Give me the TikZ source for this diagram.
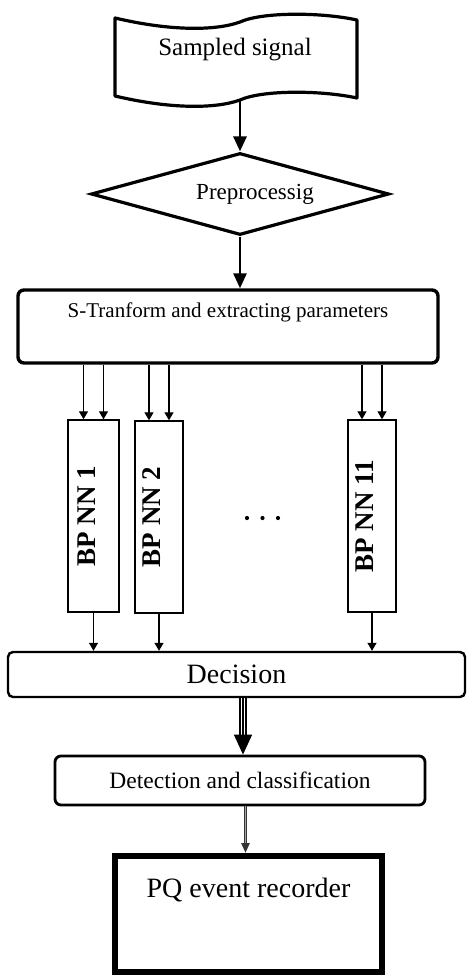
\documentclass[tikz,border=0pt]{standalone}
\usepackage{fontspec}
\setmainfont{Liberation Serif}
\usetikzlibrary{arrows.meta,shapes.geometric,calc}
\newcommand{\nnlab}[1]{\rotatebox{90}{\fontsize{27}{30}\bfseries\selectfont #1}\hspace*{14pt}}
\tikzset{
  tape/.style={draw,line width=3.2pt,line join=round},
  bigarr/.style={-{Triangle[length=15pt,width=13pt]},line width=2.8pt},
  smarr/.style={-{Triangle[length=8pt,width=9pt]},line width=1.2pt},
  nnbox/.style={draw,line width=1.4pt,minimum width=48pt,minimum height=192pt,inner sep=0pt},
  rbox/.style={draw,rounded corners=6pt,inner sep=0pt},
}

\begin{document}
\begin{tikzpicture}[x=1pt,y=-1pt]
  \useasboundingbox (0,0) rectangle (467,979);
  % sampled signal (tape)
  \draw[tape] (115,18) .. controls (170,31) and (215,31) .. (240,22)
    .. controls (262,12) and (320,12) .. (357,20) -- (357,98)
    .. controls (320,90) and (262,90) .. (240,100)
    .. controls (215,109) and (170,109) .. (115,96) -- cycle;
  \node[font=\fontsize{25}{28}\selectfont] (smp) at (235,50) {Sampled signal};
  \coordinate (smpout) at (240,100);
  % preprocessing
  \node[diamond,draw,line width=3.2pt,minimum width=298pt,minimum height=82pt,aspect=3.63,inner sep=0pt,
    label={[xshift=15pt,font=\fontsize{23}{26}\selectfont]center:Preprocessig}] (pre) at (240,194) {};
  % s-transform
  \node[rbox,line width=3.4pt,minimum width=420pt,text height=27pt,text depth=46pt,
    font=\fontsize{21}{24}\selectfont] (st) at (228,326.5) {S-Tranform and extracting parameters};
  % neural nets
  \node[nnbox,minimum width=51pt] (nn1) at (93.5,516) {\nnlab{BP NN 1}};
  \node[nnbox] (nn2) at (159,517) {\nnlab{BP NN 2}};
  \node[nnbox] (nn11) at (372,516) {\nnlab{BP NN 11}};
  \foreach \x in {247,262.5,278}{\fill (\x,518) circle (2.1pt);}
  % decision
  \node[rbox,line width=2.4pt,rounded corners=5pt,minimum width=457pt,minimum height=45pt,
    font=\fontsize{28}{30}\selectfont] (dec) at (236.5,674.5) {Decision};
  \node[rbox,line width=2.8pt,minimum width=370pt,minimum height=49pt,
    font=\fontsize{23.5}{26}\selectfont] (det) at (240,780.5) {Detection and classification};
  \node[draw,line width=6pt,minimum width=267pt,minimum height=116pt,inner sep=0pt,
    text height=41pt,text depth=75pt,font=\fontsize{28}{30}\selectfont] (pq) at (248.5,914) {PQ event recorder};
  % connectors
  \draw[bigarr] (smpout) -- (pre.north);
  \draw[bigarr] (pre.south) -- (pre.south |- st.north);
  \foreach \n in {nn1,nn2,nn11}{
    \foreach \d in {-10,10}
      \draw[smarr] ([xshift=\d pt]\n.north |- st.south) -- ([xshift=\d pt]\n.north);
    \draw[smarr] (\n.south) -- (\n.south |- dec.north);
  }
  \draw[line width=1.5pt,double distance=4.5pt,shorten >=18pt] ([xshift=3pt]det.north |- dec.south) -- ([xshift=3pt]det.north);
  \draw[-{Triangle[length=20pt,width=18pt]},line width=1.5pt] ([xshift=3pt]det.north |- dec.south) -- ([xshift=3pt]det.north);
  \draw[-{Triangle[length=10pt,width=8pt]},line width=2.6pt,black!80] (det.south -| pq.north) ++(-3,0) coordinate (da) -- ([xshift=-3pt]pq.north);
  \draw[black!35,line width=1pt,shorten >=10pt] (da) -- ([xshift=-3pt]pq.north);
\end{tikzpicture}
\end{document}
